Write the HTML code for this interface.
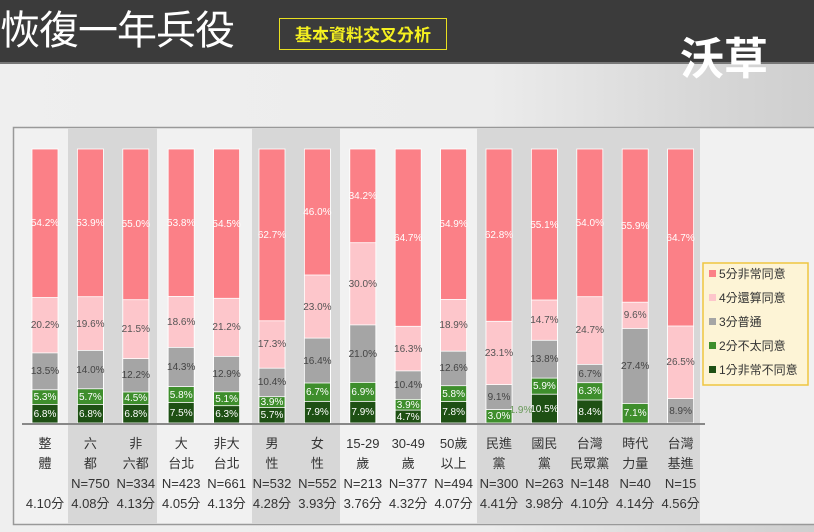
<!DOCTYPE html>
<html><head><meta charset="utf-8"><style>
html,body{margin:0;padding:0;}
body{width:814px;height:532px;overflow:hidden;background:linear-gradient(90deg,#efefef 0%,#ececec 60%,#d8d8d8 85%,#cfcfcf 100%);font-family:"Liberation Sans","Noto Sans CJK TC",sans-serif;position:relative;}
.hdr{position:absolute;left:0;top:0;width:814px;height:62px;background:#3b3b3b;border-bottom:2px solid #777;}
.t{position:absolute;left:0;top:4px;font-size:40px;color:#fff;letter-spacing:-1px;line-height:46px;font-family:"Noto Sans CJK TC",sans-serif;}
.box{position:absolute;left:279px;top:18px;width:166px;height:30px;border:1px solid #e8e020;color:#f5f020;font-size:17px;line-height:30px;text-align:center;font-family:"Noto Sans CJK TC",sans-serif;font-weight:bold;}
.logo{position:absolute;left:680px;top:28px;font-size:44px;color:#fff;font-weight:bold;font-family:"Noto Sans CJK TC",sans-serif;line-height:54px;}
svg{position:absolute;left:0;top:0;}
</style></head><body>
<div class="hdr"><div class="t">恢復一年兵役</div><div class="box">基本資料交叉分析</div></div>
<div class="logo">沃草</div>
<svg width="814" height="532" font-family="Liberation Sans, Noto Sans CJK TC, sans-serif">
<rect x="13.5" y="127.5" width="810" height="397" fill="#f1f1f1" stroke="#999" stroke-width="1.5"/>
<rect x="68" y="128" width="89" height="396" fill="#d7d7d7"/>
<rect x="252" y="128" width="88" height="396" fill="#d7d7d7"/>
<rect x="477" y="128" width="223" height="396" fill="#d7d7d7"/>
<g stroke="#fff" stroke-width="0.8">
<g fill="#fb8087">
<rect x="32" y="149" width="26" height="274"/><rect x="77.4" y="149" width="26" height="274"/><rect x="122.8" y="149" width="26" height="274"/><rect x="168.2" y="149" width="26" height="274"/><rect x="213.6" y="149" width="26" height="274"/><rect x="259" y="149" width="26" height="274"/><rect x="304.4" y="149" width="26" height="274"/><rect x="349.8" y="149" width="26" height="274"/><rect x="395.2" y="149" width="26" height="274"/><rect x="440.6" y="149" width="26" height="274"/><rect x="486" y="149" width="26" height="274"/><rect x="531.4" y="149" width="26" height="274"/><rect x="576.8" y="149" width="26" height="274"/><rect x="622.2" y="149" width="26" height="274"/><rect x="667.6" y="149" width="26" height="274"/>
</g>
<g fill="#fdc6cb">
<rect x="32" y="297.5" width="26" height="125.5"/><rect x="77.4" y="296.7" width="26" height="126.3"/><rect x="122.8" y="299.7" width="26" height="123.3"/><rect x="168.2" y="296.4" width="26" height="126.6"/><rect x="213.6" y="298.3" width="26" height="124.7"/><rect x="259" y="320.8" width="26" height="102.2"/><rect x="304.4" y="275" width="26" height="148"/><rect x="349.8" y="242.7" width="26" height="180.3"/><rect x="395.2" y="326.3" width="26" height="96.7"/><rect x="440.6" y="299.4" width="26" height="123.6"/><rect x="486" y="321.3" width="26" height="101.7"/><rect x="531.4" y="300" width="26" height="123"/><rect x="576.8" y="296.7" width="26" height="126.3"/><rect x="622.2" y="302.2" width="26" height="120.8"/><rect x="667.6" y="326" width="26" height="97"/>
</g>
<g fill="#a5a5a5">
<rect x="32" y="352.9" width="26" height="70.1"/><rect x="77.4" y="350.4" width="26" height="72.6"/><rect x="122.8" y="358.6" width="26" height="64.4"/><rect x="168.2" y="347.4" width="26" height="75.6"/><rect x="213.6" y="356.4" width="26" height="66.6"/><rect x="259" y="368.2" width="26" height="54.8"/><rect x="304.4" y="338.1" width="26" height="84.9"/><rect x="349.8" y="324.9" width="26" height="98.1"/><rect x="395.2" y="370.9" width="26" height="52.1"/><rect x="440.6" y="351.2" width="26" height="71.8"/><rect x="486" y="384.6" width="26" height="38.4"/><rect x="531.4" y="340.3" width="26" height="82.7"/><rect x="576.8" y="364.4" width="26" height="58.6"/><rect x="622.2" y="328.5" width="26" height="94.5"/><rect x="667.6" y="398.6" width="26" height="24.4"/>
</g>
<g fill="#3e8e2c">
<rect x="32" y="389.8" width="26" height="33.2"/><rect x="77.4" y="388.8" width="26" height="34.2"/><rect x="122.8" y="392" width="26" height="31"/><rect x="168.2" y="386.6" width="26" height="36.4"/><rect x="213.6" y="391.8" width="26" height="31.2"/><rect x="259" y="396.7" width="26" height="26.3"/><rect x="304.4" y="383" width="26" height="40"/><rect x="349.8" y="382.4" width="26" height="40.6"/><rect x="395.2" y="399.4" width="26" height="23.6"/><rect x="440.6" y="385.7" width="26" height="37.3"/><rect x="486" y="409.6" width="26" height="13.4"/><rect x="531.4" y="378.1" width="26" height="44.9"/><rect x="576.8" y="382.7" width="26" height="40.3"/><rect x="622.2" y="403.5" width="26" height="19.5"/>
</g>
<g fill="#1e5014">
<rect x="32" y="404.4" width="26" height="18.6"/><rect x="77.4" y="404.4" width="26" height="18.6"/><rect x="122.8" y="404.4" width="26" height="18.6"/><rect x="168.2" y="402.5" width="26" height="20.5"/><rect x="213.6" y="405.7" width="26" height="17.3"/><rect x="259" y="407.4" width="26" height="15.6"/><rect x="304.4" y="401.4" width="26" height="21.6"/><rect x="349.8" y="401.4" width="26" height="21.6"/><rect x="395.2" y="410.1" width="26" height="12.9"/><rect x="440.6" y="401.6" width="26" height="21.4"/><rect x="531.4" y="394.2" width="26" height="28.8"/><rect x="576.8" y="400" width="26" height="23"/>
</g>
</g>
<line x1="22" y1="424" x2="705" y2="424" stroke="#888" stroke-width="2"/>
<g font-size="10" text-anchor="middle">
<g fill="#fff">
<text x="45" y="226">54.2%</text><text x="90.4" y="226">53.9%</text><text x="135.8" y="227">55.0%</text><text x="181.2" y="226">53.8%</text><text x="226.6" y="227">54.5%</text><text x="272" y="238">62.7%</text><text x="317.4" y="215">46.0%</text><text x="362.8" y="199">34.2%</text><text x="408.2" y="241">64.7%</text><text x="453.6" y="227">54.9%</text><text x="499" y="238">62.8%</text><text x="544.4" y="228">55.1%</text><text x="589.8" y="226">54.0%</text><text x="635.2" y="229">55.9%</text><text x="680.6" y="241">64.7%</text>
<text x="45" y="400">5.3%</text><text x="90.4" y="400">5.7%</text><text x="135.8" y="401">4.5%</text><text x="181.2" y="398">5.8%</text><text x="226.6" y="402">5.1%</text><text x="272" y="405">3.9%</text><text x="317.4" y="395">6.7%</text><text x="362.8" y="395">6.9%</text><text x="408.2" y="408">3.9%</text><text x="453.6" y="397">5.8%</text><text x="499" y="419">3.0%</text><text x="544.4" y="389">5.9%</text><text x="589.8" y="394">6.3%</text><text x="635.2" y="416">7.1%</text>
<text x="45" y="417">6.8%</text><text x="90.4" y="417">6.8%</text><text x="135.8" y="417">6.8%</text><text x="181.2" y="416">7.5%</text><text x="226.6" y="417">6.3%</text><text x="272" y="418">5.7%</text><text x="317.4" y="415">7.9%</text><text x="362.8" y="415">7.9%</text><text x="408.2" y="420">4.7%</text><text x="453.6" y="415">7.8%</text><text x="544.4" y="412">10.5%</text><text x="589.8" y="415">8.4%</text>
</g>
<g fill="#555">
<text x="45" y="328">20.2%</text><text x="90.4" y="327">19.6%</text><text x="135.8" y="332">21.5%</text><text x="181.2" y="325">18.6%</text><text x="226.6" y="330">21.2%</text><text x="272" y="347">17.3%</text><text x="317.4" y="310">23.0%</text><text x="362.8" y="287">30.0%</text><text x="408.2" y="352">16.3%</text><text x="453.6" y="328">18.9%</text><text x="499" y="356">23.1%</text><text x="544.4" y="323">14.7%</text><text x="589.8" y="333">24.7%</text><text x="635.2" y="318">9.6%</text><text x="680.6" y="365">26.5%</text>
</g>
<g fill="#444">
<text x="45" y="374">13.5%</text><text x="90.4" y="373">14.0%</text><text x="135.8" y="378">12.2%</text><text x="181.2" y="370">14.3%</text><text x="226.6" y="377">12.9%</text><text x="272" y="385">10.4%</text><text x="317.4" y="364">16.4%</text><text x="362.8" y="357">21.0%</text><text x="408.2" y="388">10.4%</text><text x="453.6" y="371">12.6%</text><text x="499" y="400">9.1%</text><text x="544.4" y="362">13.8%</text><text x="589.8" y="377">6.7%</text><text x="635.2" y="369">27.4%</text><text x="680.6" y="414">8.9%</text>
</g>
<text x="521" y="413" fill="#6a9a5a">1.9%</text>
</g>
<g font-size="13" fill="#333" text-anchor="middle">
<text x="45" y="448">整</text><text x="45" y="468">體</text><text x="45" y="508">4.10分</text>
<text x="90.4" y="448">六</text><text x="90.4" y="468">都</text><text x="90.4" y="488">N=750</text><text x="90.4" y="508">4.08分</text>
<text x="135.8" y="448">非</text><text x="135.8" y="468">六都</text><text x="135.8" y="488">N=334</text><text x="135.8" y="508">4.13分</text>
<text x="181.2" y="448">大</text><text x="181.2" y="468">台北</text><text x="181.2" y="488">N=423</text><text x="181.2" y="508">4.05分</text>
<text x="226.6" y="448">非大</text><text x="226.6" y="468">台北</text><text x="226.6" y="488">N=661</text><text x="226.6" y="508">4.13分</text>
<text x="272" y="448">男</text><text x="272" y="468">性</text><text x="272" y="488">N=532</text><text x="272" y="508">4.28分</text>
<text x="317.4" y="448">女</text><text x="317.4" y="468">性</text><text x="317.4" y="488">N=552</text><text x="317.4" y="508">3.93分</text>
<text x="362.8" y="448">15-29</text><text x="362.8" y="468">歲</text><text x="362.8" y="488">N=213</text><text x="362.8" y="508">3.76分</text>
<text x="408.2" y="448">30-49</text><text x="408.2" y="468">歲</text><text x="408.2" y="488">N=377</text><text x="408.2" y="508">4.32分</text>
<text x="453.6" y="448">50歲</text><text x="453.6" y="468">以上</text><text x="453.6" y="488">N=494</text><text x="453.6" y="508">4.07分</text>
<text x="499" y="448">民進</text><text x="499" y="468">黨</text><text x="499" y="488">N=300</text><text x="499" y="508">4.41分</text>
<text x="544.4" y="448">國民</text><text x="544.4" y="468">黨</text><text x="544.4" y="488">N=263</text><text x="544.4" y="508">3.98分</text>
<text x="589.8" y="448">台灣</text><text x="589.8" y="468">民眾黨</text><text x="589.8" y="488">N=148</text><text x="589.8" y="508">4.10分</text>
<text x="635.2" y="448">時代</text><text x="635.2" y="468">力量</text><text x="635.2" y="488">N=40</text><text x="635.2" y="508">4.14分</text>
<text x="680.6" y="448">台灣</text><text x="680.6" y="468">基進</text><text x="680.6" y="488">N=15</text><text x="680.6" y="508">4.56分</text>
</g>
<rect x="703" y="263" width="105" height="122" fill="#fdf4d6" stroke="#efc640" stroke-width="1.5"/>
<g font-size="12" fill="#333">
<rect x="709" y="270" width="7" height="7" fill="#fb8087"/><text x="719" y="278">5分非常同意</text>
<rect x="709" y="294" width="7" height="7" fill="#fdc6cb"/><text x="719" y="302">4分還算同意</text>
<rect x="709" y="318" width="7" height="7" fill="#a5a5a5"/><text x="719" y="326">3分普通</text>
<rect x="709" y="342" width="7" height="7" fill="#3e8e2c"/><text x="719" y="350">2分不太同意</text>
<rect x="709" y="366" width="7" height="7" fill="#1e5014"/><text x="719" y="374">1分非常不同意</text>
</g>
</svg>
</body></html>
